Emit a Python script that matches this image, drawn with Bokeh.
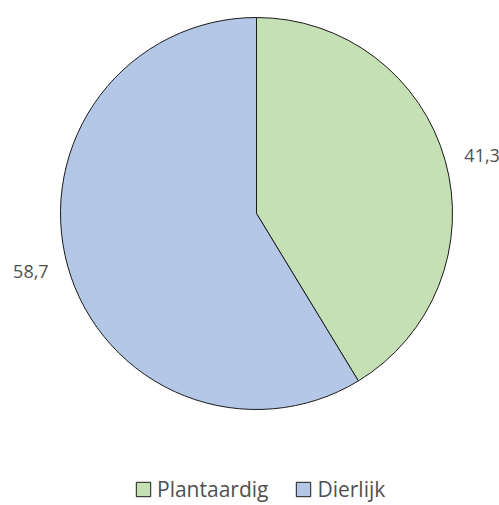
import math
from bokeh.plotting import figure
from bokeh.models import Range1d, ColumnDataSource, Legend, LegendItem
from bokeh.core.properties import value
from bokeh.embed import file_html
from bokeh.resources import INLINE

categories = ["Plantaardig", "Dierlijk"]
values = [41.3, 58.7]
labels = ["41,3", "58,7"]
colors = ["#C5E0B4", "#B4C7E7"]

W, H = 499, 505
p = figure(width=W, height=H, output_backend="svg", toolbar_location=None,
           x_range=Range1d(0, W), y_range=Range1d(-H, 0),
           min_border=0, outline_line_color=None)
p.axis.visible = False
p.grid.visible = False
p.background_fill_color = None
p.border_fill_color = "white"

cx, cy, r = 256, -213, 196
total = sum(values)
starts, ends, lx, ly = [], [], [], []
a = math.pi / 2
for v in values:
    span = 2 * math.pi * v / total
    starts.append(a)
    ends.append(a - span)
    mid = a - span / 2 - math.radians(1.2)
    lx.append(cx + 233 * math.cos(mid))
    ly.append(cy + 233 * math.sin(mid))
    a -= span

src = ColumnDataSource(dict(start=starts, end=ends, color=colors, cat=categories))
wr = p.wedge(x=cx, y=cy, radius=r, start_angle="start", end_angle="end",
             direction="clock", fill_color="color", line_color="#1a1a1a",
             line_width=1, source=src)

p.text(x=lx, y=ly, text=labels, text_align="center", text_baseline="middle",
       text_font=value("Open Sans"), text_font_size="18px", text_color="#505050")

legend = Legend(items=[LegendItem(label=c, renderers=[wr], index=i) for i, c in enumerate(categories)],
                orientation="horizontal", location=(134, 2),
                glyph_width=18, glyph_height=18, label_standoff=5, spacing=26,
                padding=0, margin=0, border_line_color=None, background_fill_alpha=0,
                label_text_font="Open Sans", label_text_font_size="21px",
                label_text_color="#505050")
p.add_layout(legend, "center")

open("out.html", "w").write(file_html(p, INLINE))
